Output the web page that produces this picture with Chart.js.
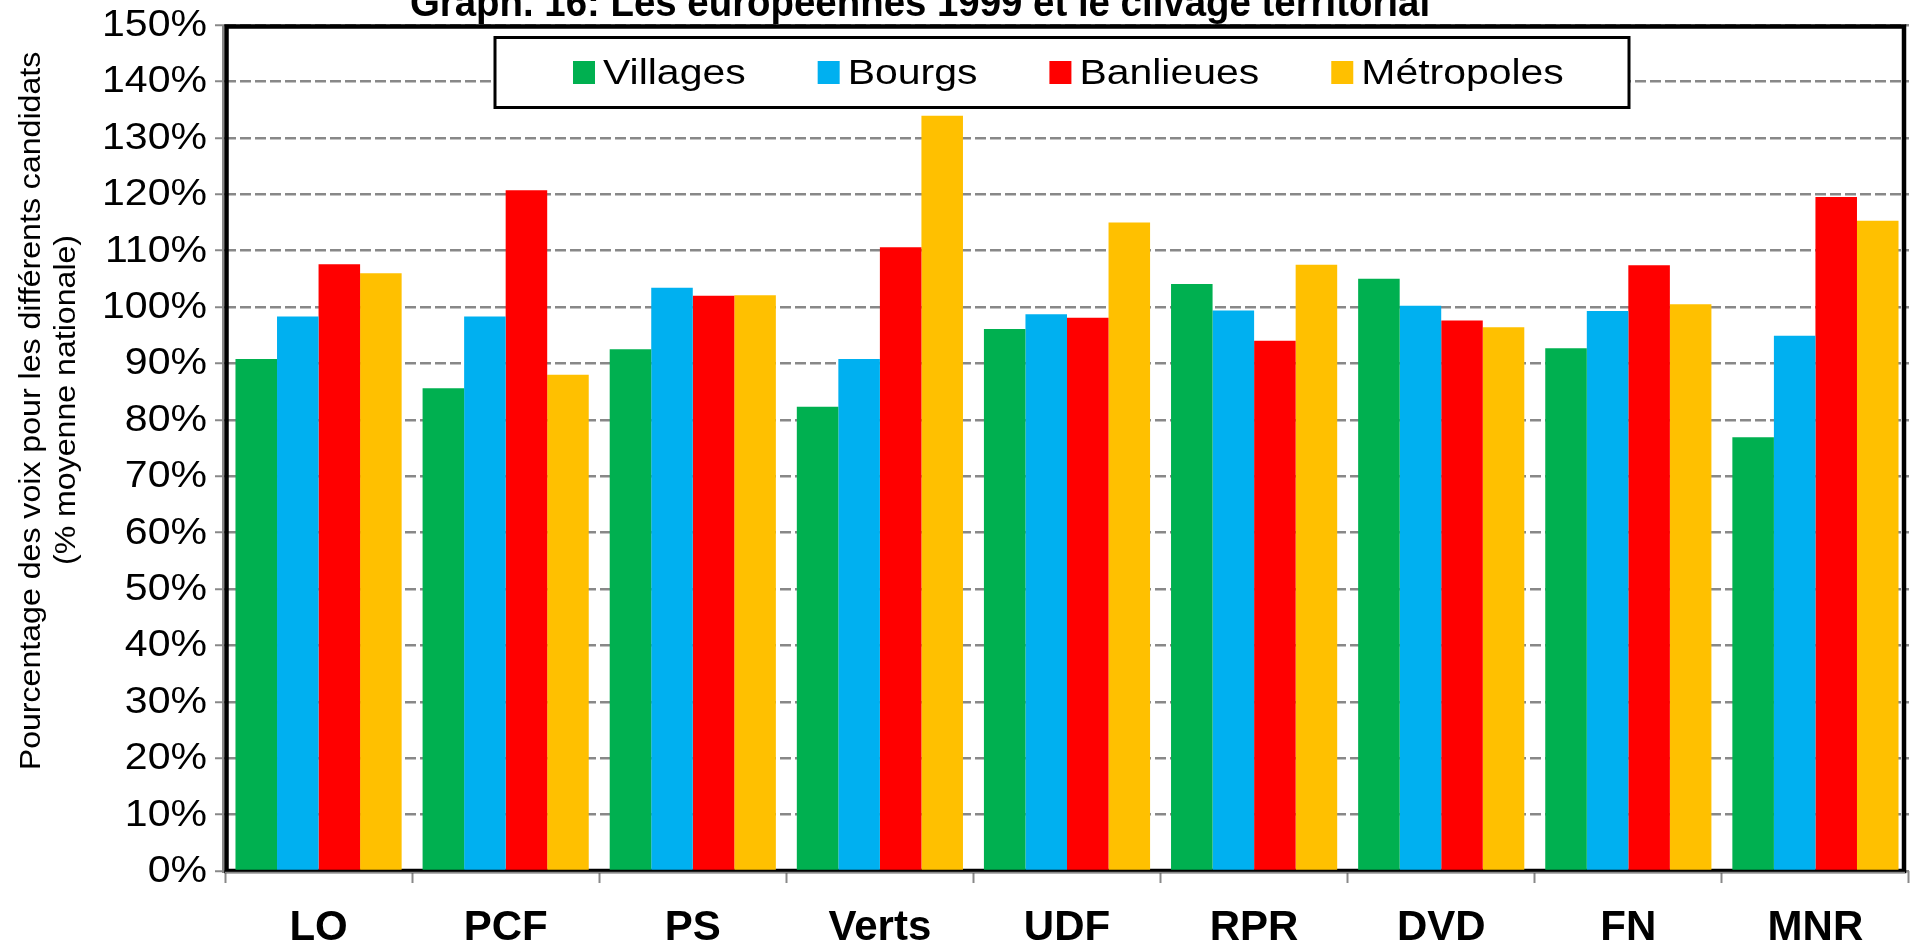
<!DOCTYPE html>
<html>
<head>
<meta charset="utf-8">
<script src="https://cdn.jsdelivr.net/npm/chart.js@4"></script>
<style>
  html, body { margin: 0; padding: 0; background: #fff; }
  canvas { display: block; }
</style>
</head>
<body>
<canvas id="c" width="1910" height="942"></canvas>
<script>
const titleText = 'Graph. 16: Les européennes 1999 et le clivage territorial';
const yTitleLines = ['Pourcentage des voix pour les différents candidats', '(% moyenne nationale)'];
const categories = ['LO', 'PCF', 'PS', 'Verts', 'UDF', 'RPR', 'DVD', 'FN', 'MNR'];
const seriesNames = ['Villages', 'Bourgs', 'Banlieues', 'Métropoles'];
const villages   = [90.8, 85.6, 92.5, 82.3, 96.1, 104.1, 105.0, 92.7, 76.9];
const bourgs     = [98.3, 98.3, 103.4, 90.8, 98.7, 99.4, 100.2, 99.3, 94.9];
const banlieues  = [107.6, 120.7, 102.0, 110.6, 98.1, 94.0, 97.6, 107.4, 119.5];
const metropoles = [106.0, 88.0, 102.1, 133.9, 115.0, 107.5, 96.4, 100.5, 115.3];
const yMin = 0, yMax = 150, yStep = 10;
const colors = ['#00B050', '#00B0F0', '#FF0000', '#FFC000'];

const FONT = '"Liberation Sans", Arial, sans-serif';

const framePlugin = {
  id: 'frame',
  beforeDatasetsDraw(chart) {
    const {ctx, chartArea: a} = chart;
    ctx.save();
    ctx.strokeStyle = '#888';
    ctx.lineWidth = 2;
    ctx.beginPath();
    ctx.moveTo(a.left - 2, a.top);
    ctx.lineTo(a.left - 2, a.bottom + 2);
    ctx.stroke();
    ctx.strokeStyle = '#000';
    ctx.lineWidth = 4.5;
    ctx.strokeRect(a.left + 1.5, a.top + 1.5, (a.right - 5) - (a.left + 1.5), a.bottom - (a.top + 1.5));
    ctx.restore();
  },
  afterDatasetsDraw(chart) {
    const {ctx, chartArea: a} = chart;
    ctx.save();
    ctx.strokeStyle = '#888';
    ctx.lineWidth = 1.5;
    ctx.beginPath();
    ctx.moveTo(a.left, a.bottom + 1.5);
    ctx.lineTo(a.right - 4, a.bottom + 1.5);
    ctx.stroke();
    ctx.restore();
  }
};

const textPlugin = {
  id: 'texts',
  afterDraw(chart) {
    const {ctx} = chart;
    ctx.save();
    ctx.fillStyle = '#000';

    // Title (partly cut off at top)
    ctx.save();
    ctx.font = 'bold 40px ' + FONT;
    ctx.textAlign = 'center';
    ctx.textBaseline = 'alphabetic';
    ctx.translate(920, 16);
    ctx.scale(0.96, 1);
    ctx.fillText(titleText, 0, 0);
    ctx.restore();

    // Y tick labels, drawn from the library's y scale
    const ys = chart.scales.y;
    ctx.font = '36px ' + FONT;
    ctx.textBaseline = 'middle';
    ctx.textAlign = 'right';
    ys.ticks.forEach(t => {
      const py = ys.getPixelForValue(t.value);
      ctx.save();
      ctx.translate(207, py + 1);
      ctx.scale(1.14, 1);
      ctx.fillText(t.value + '%', 0, 0);
      ctx.restore();
    });

    // Y axis title, rotated, two lines
    ctx.font = '30px ' + FONT;
    ctx.textBaseline = 'alphabetic';
    const baseX = [40, 75];
    const centerY = [411, 400];
    yTitleLines.forEach((line, i) => {
      ctx.save();
      ctx.translate(baseX[i], centerY[i]);
      ctx.rotate(-Math.PI / 2);
      ctx.scale(1.07, 1);
      ctx.textAlign = 'center';
      ctx.fillText(line, 0, 0);
      ctx.restore();
    });

    // Legend box
    const bx = 495, by = 37.5, bw = 1134, bh = 70;
    ctx.fillStyle = '#fff';
    ctx.fillRect(bx, by, bw, bh);
    ctx.strokeStyle = '#000';
    ctx.lineWidth = 3;
    ctx.strokeRect(bx, by, bw, bh);
    ctx.font = '35px ' + FONT;
    ctx.textAlign = 'left';
    const sx = 1.17;
    let x = 573;
    chart.data.datasets.forEach(ds => {
      ctx.fillStyle = ds.backgroundColor;
      ctx.fillRect(x, 61, 22, 23);
      const tx = x + 30;
      ctx.save();
      ctx.translate(tx, 84);
      ctx.scale(sx, 1);
      ctx.fillStyle = '#000';
      ctx.fillText(ds.label, 0, 0);
      ctx.restore();
      x = tx + ctx.measureText(ds.label).width * sx + 72;
    });
    ctx.restore();
  }
};

const seriesValues = [villages, bourgs, banlieues, metropoles];

new Chart(document.getElementById('c'), {
  type: 'bar',
  data: {
    labels: categories,
    datasets: seriesNames.map((name, i) => ({
      label: name,
      data: seriesValues[i],
      backgroundColor: colors[i],
      borderWidth: 0,
      categoryPercentage: 0.888,
      barPercentage: 1.0
    }))
  },
  options: {
    responsive: false,
    animation: false,
    devicePixelRatio: 1,
    layout: { padding: { top: 25, right: 1, left: 0, bottom: 0 } },
    plugins: {
      legend: { display: false },
      title: { display: false },
      tooltip: { enabled: false }
    },
    scales: {
      x: {
        offset: true,
        grid: {
          offset: true,
          drawOnChartArea: false,
          drawTicks: true,
          tickLength: 12,
          tickColor: '#888',
          tickWidth: 2
        },
        border: { display: false },
        ticks: {
          color: '#000',
          font: { family: FONT, size: 42, weight: 'bold' },
          padding: 20,
          maxRotation: 0,
          autoSkip: false
        },
        afterFit(scale) { scale.height = 942 - 871; }
      },
      y: {
        min: yMin,
        max: yMax,
        grid: {
          color: '#888',
          lineWidth: 2.5,
          tickLength: 10,
          tickColor: '#888',
          tickWidth: 2
        },
        border: { display: false, dash: [11, 4] },
        ticks: {
          display: false,
          stepSize: yStep
        },
        afterFit(scale) { scale.width = 225; }
      }
    }
  },
  plugins: [framePlugin, textPlugin]
});
</script>
</body>
</html>
